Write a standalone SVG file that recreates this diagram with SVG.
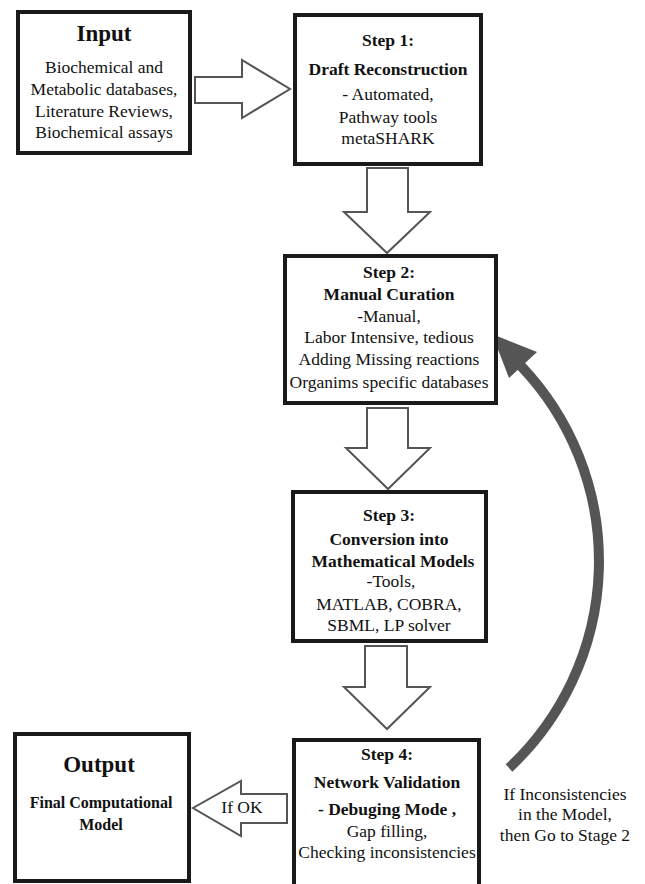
<svg xmlns="http://www.w3.org/2000/svg" width="645" height="884" viewBox="0 0 645 884">
<style>
.box{fill:#fff;stroke:#1a1a1a;stroke-width:4}
.blk{fill:#fff;stroke:#555;stroke-width:2;stroke-linejoin:miter}
text{font-family:"Liberation Serif","Times New Roman",serif;fill:#111;text-anchor:middle}
.r{font-size:17.5px}
.b{font-size:17.5px;font-weight:bold}
.h{font-size:23px;font-weight:bold}
</style>
<rect width="645" height="884" fill="#fff"/>
<g id="connectors">
<polygon class="blk" points="195,77 242,77 242,60 290,89 242,118 242,103 195,103"/>
<polygon class="blk" points="367,168 408,168 408,212 430,212 387,253 344,212 367,212"/>
<polygon class="blk" points="367,408 408,408 408,448 430,448 388,489 346,448 367,448"/>
<polygon class="blk" points="365,646 407,646 407,687 430,687 387,729 344,687 365,687"/>
<polygon class="blk" points="287,794 241,794 241,781 193,808 241,836 241,823 287,823"/>
<path d="M509,768 A283,283 0 0 0 521,366" fill="none" stroke="#555" stroke-width="10"/>
<polygon points="492,334 537,352 509,378" fill="#555"/>
<text class="r" x="242" y="813">If OK</text>
<text class="r" x="565" y="800">If Inconsistencies</text>
<text class="r" x="565" y="820">in the Model,</text>
<text class="r" x="565" y="841">then Go to Stage 2</text>
</g>
<g id="input">
<rect class="box" x="18" y="12" width="172" height="141"/>
<text class="h" x="104" y="41">Input</text>
<text class="r" x="104" y="73">Biochemical and</text>
<text class="r" x="104" y="95">Metabolic databases,</text>
<text class="r" x="104" y="117">Literature Reviews,</text>
<text class="r" x="104" y="138">Biochemical assays</text>
</g>
<g id="step1">
<rect class="box" x="295" y="15" width="186" height="149"/>
<text class="b" x="388" y="46">Step 1:</text>
<text class="b" x="388" y="75">Draft Reconstruction</text>
<text class="r" x="388" y="100">- Automated,</text>
<text class="r" x="388" y="123">Pathway tools</text>
<text class="r" x="388" y="144">metaSHARK</text>
</g>
<g id="step2">
<rect class="box" x="285" y="256" width="211" height="147"/>
<text class="b" x="389" y="278">Step 2:</text>
<text class="b" x="389" y="300">Manual Curation</text>
<text class="r" x="389" y="322">-Manual,</text>
<text class="r" x="389" y="343">Labor Intensive, tedious</text>
<text class="r" x="389" y="365">Adding Missing reactions</text>
<text class="r" x="389" y="388">Organims specific databases</text>
</g>
<g id="step3">
<rect class="box" x="293" y="492" width="193" height="149"/>
<text class="b" x="389" y="521">Step 3:</text>
<text class="b" x="389" y="545">Conversion into</text>
<text class="b" x="393" y="567">Mathematical Models</text>
<text class="r" x="391" y="587">-Tools,</text>
<text class="r" x="389" y="610">MATLAB, COBRA,</text>
<text class="r" x="389" y="631">SBML, LP solver</text>
</g>
<g id="step4">
<rect class="box" x="294" y="740" width="185" height="160"/>
<text class="b" x="387" y="760">Step 4:</text>
<text class="b" x="387" y="788">Network Validation</text>
<text class="b" x="387" y="815">- Debuging Mode ,</text>
<text class="r" x="387" y="837">Gap filling,</text>
<text class="r" x="387" y="858">Checking inconsistencies</text>
</g>
<g id="output">
<rect class="box" x="15" y="734" width="174" height="147"/>
<text class="h" x="99" y="772">Output</text>
<text class="b" x="101" y="808" style="font-size:16px">Final Computational</text>
<text class="b" x="101" y="830" style="font-size:16px">Model</text>
</g>
</svg>
